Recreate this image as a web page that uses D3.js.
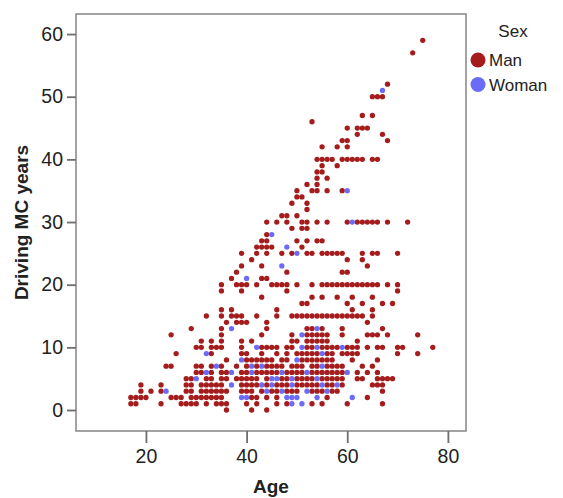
<!DOCTYPE html>
<html><head><meta charset="utf-8">
<script src="https://cdn.jsdelivr.net/npm/d3@7"></script>
<style>
html,body{margin:0;padding:0;background:#fff;}
svg text{font-family:"Liberation Sans",Arial,sans-serif;fill:#222;}
</style></head>
<body><svg id="chart" width="563" height="498"></svg>
<script>
// Data: for each "Driving MC years" value, the ages of men and of women
const years = [0,1,2,3,4,5,6,7,8,9,10,11,12,13,14,15,16,17,18,19,20,21,22,23,24,25,26,27,28,29,30,31,32,33,34,35,36,37,38,39,40,42,43,44,45,46,47,50,51,52,57,59];
const manAges = [
 [36,41,44],
 [17,18,23,27,28,29,30,32,34,35,36,40,42,46,48,53,55,60,67],
 [17,18,19,20,25,26,27,29,30,31,32,33,34,35,41,42,44,46,56,64],
 [19,21,23,28,29,31,32,33,34,35,36,39,40,41,43,45,46,48,49,50,53,54,55,57,58,67],
 [19,23,28,29,31,32,33,34,35,39,40,41,42,44,46,47,48,50,51,52,53,54,56,57,59,65,66,67],
 [28,29,32,33,35,36,38,39,40,41,42,44,47,48,50,51,52,53,55,56,57,58,59,62,63,66,67,68,69],
 [30,31,33,35,36,39,40,42,43,44,45,46,48,49,50,51,53,54,55,56,57,58,59,62,64,66],
 [24,25,30,31,33,35,38,40,42,44,45,46,47,49,50,51,53,54,56,57,58,59,63,65],
 [36,40,41,42,43,44,45,47,48,51,52,53,54,55,56,57,61,66],
 [26,33,39,40,43,46,48,50,51,52,53,54,56,57,59,60,61,62,70,74],
 [30,31,33,34,35,39,43,44,45,46,48,49,52,53,55,56,57,58,60,61,62,64,66,67,70,71,77],
 [31,33,35,39,41,49,50,52,53,54,55,56,62],
 [25,35,43,49,52,53,54,55,56,59,64,65,66,68,74],
 [29,35,44,52,53,55,59,67],
 [36,38,39,40,44,64],
 [32,35,37,38,39,42,46,49,50,51,52,53,54,55,56,57,58,59,60,61,62,63,65],
 [35,37,46,61,65],
 [51,52,60,63,67,69],
 [43,53,55,58,61,65],
 [35,39,48,70],
 [35,38,39,40,42,45,46,47,48,50,53,55,56,57,58,59,60,61,62,63,64,65,66,68,70],
 [37,43,44],
 [38,48,59,60],
 [39,43,64],
 [41,60,63],
 [39,42,44,47,49,52,53,55,56,57,58,59,63,65,66,70],
 [42,43,44,45,51],
 [43,44,50,52,54,55],
 [44],
 [49,51,52],
 [44,46,48,51,52,54,56,60,62,63,64,65,66,68,72],
 [47,48,50],
 [52],
 [49,52],
 [50,51],
 [50,53,54,56,59],
 [52,54],
 [54,56],
 [54,55],
 [55,58],
 [54,55,56,57,59,60,61,62,63,65,66],
 [55,58,60],
 [59,60,68],
 [62,67],
 [60,62,63,64],
 [53],
 [63,65],
 [65,66,67],
 [],
 [68],
 [73],
 [75]
];
const womanAges = [
 [],[49,51],[39,40,48,49,50,54,61],[24,44,47,52,56],[37,43,45,49,55,58],[30,45,46,49,54],
 [32,37,41,47,52,60],[34,41,43,55],[39,50],[32,55],[42,51,54,59],[],[51],[37,54],[],[],
 [],[],[],[],[],[40],[],[47],[],[50],[48],[],[45],[],[61],[],[],[],[],[60],
 [],[],[],[],[],[],[],[],[],[],[],[],[67],[],[],[]
];
const sexes = ["Man","Woman"];
const sexColors = ["#a51c1c","#6b6bf7"];
const xTicks = [20,40,60,80];
const yTicks = [0,10,20,30,40,50,60];

const points = [];
years.forEach((yr,i)=>{
  manAges[i].forEach(a=>points.push({age:a,yrs:yr,sex:"Man"}));
  womanAges[i].forEach(a=>points.push({age:a,yrs:yr,sex:"Woman"}));
});

const svg = d3.select("#chart");
const L=76,R=466,T=14,B=431;
const x = d3.scaleLinear().domain([6.1,83.6]).range([L,R]);
const y = d3.scaleLinear().domain([-3.35,63.2]).range([B,T]);
const color = d3.scaleOrdinal().domain(sexes).range(sexColors);

// frame
svg.append("rect").attr("x",L).attr("y",T).attr("width",R-L).attr("height",B-T)
  .attr("fill","#fff").attr("stroke","#8c8c8c").attr("stroke-width",1.6);

// axes
const yAxis = d3.axisLeft(y).tickValues(yTicks).tickSize(9).tickPadding(4);
const gy = svg.append("g").attr("transform",`translate(${L},0)`).call(yAxis);
const xAxis = d3.axisBottom(x).tickValues(xTicks).tickSize(12).tickPadding(6);
const gx = svg.append("g").attr("transform",`translate(0,${B})`).call(xAxis);
[gx,gy].forEach(g=>{
  g.select(".domain").remove();
  g.selectAll(".tick line").attr("stroke","#6e6e6e").attr("stroke-width",1.8);
  g.selectAll(".tick text").attr("font-size",19.5).attr("font-family","Liberation Sans, Arial, sans-serif").attr("fill","#222");
});

// points
svg.append("g").selectAll("circle").data(points).join("circle")
  .attr("cx",d=>x(d.age)).attr("cy",d=>y(d.yrs)).attr("r",2.65)
  .attr("fill",d=>color(d.sex));

// titles
svg.append("text").attr("x",(L+R)/2+0).attr("y",493).attr("text-anchor","middle")
  .attr("font-size",19).attr("font-weight","bold").text("Age");
svg.append("text").attr("transform",`translate(28,${(T+B)/2}) rotate(-90)`).attr("text-anchor","middle")
  .attr("font-size",19).attr("font-weight","bold").text("Driving MC years");

// legend
const lg = svg.append("g");
lg.append("text").attr("x",513).attr("y",37).attr("text-anchor","middle").attr("font-size",17).text("Sex");
sexes.forEach((s,i)=>{
  lg.append("circle").attr("cx",478).attr("cy",60+i*24.5).attr("r",7.5).attr("fill",color(s));
  lg.append("text").attr("x",489).attr("y",66+i*24.5).attr("font-size",17).text(s);
});
</script></body></html>
